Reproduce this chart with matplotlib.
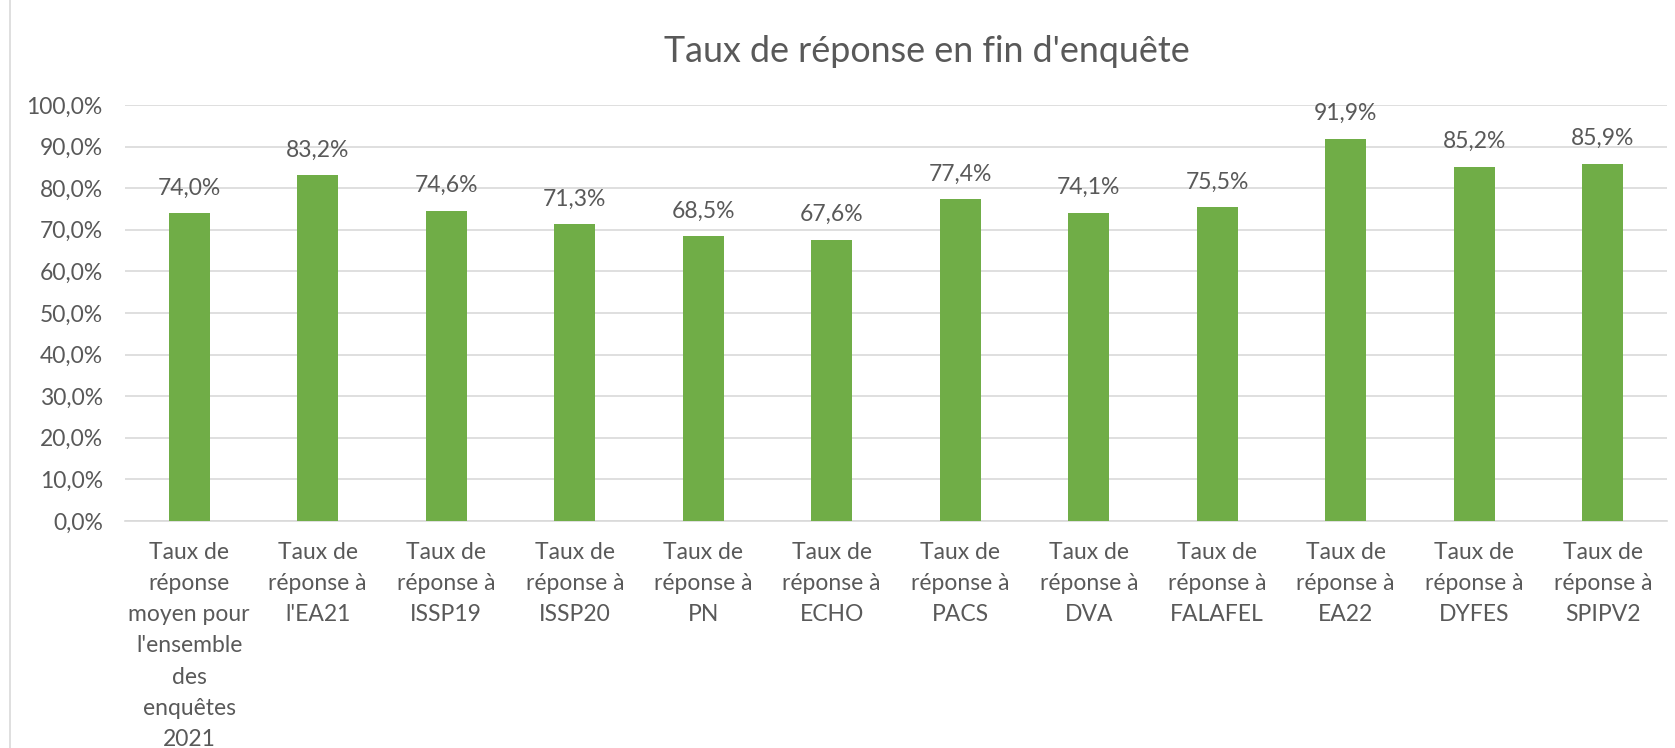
import matplotlib
matplotlib.use("Agg")
import matplotlib.pyplot as plt
from matplotlib.ticker import FuncFormatter, MultipleLocator

categories = [
    "Taux de\nréponse\nmoyen pour\nl'ensemble\ndes\nenquêtes\n2021",
    "Taux de\nréponse à\nl'EA21",
    "Taux de\nréponse à\nISSP19",
    "Taux de\nréponse à\nISSP20",
    "Taux de\nréponse à\nPN",
    "Taux de\nréponse à\nECHO",
    "Taux de\nréponse à\nPACS",
    "Taux de\nréponse à\nDVA",
    "Taux de\nréponse à\nFALAFEL",
    "Taux de\nréponse à\nEA22",
    "Taux de\nréponse à\nDYFES",
    "Taux de\nréponse à\nSPIPV2",
]
values = [74.0, 83.2, 74.6, 71.3, 68.5, 67.6, 77.4, 74.1, 75.5, 91.9, 85.2, 85.9]
title = "Taux de réponse en fin d'enquête"

plt.rcParams['font.family'] = ['Lato', 'DejaVu Sans']
TXT = '#595959'
W, H = 1675, 748
fig = plt.figure(figsize=(W/100, H/100), dpi=100)
ax = fig.add_axes([125/W, 1-521/H, (1667-125)/W, (521-105)/H])

x = list(range(len(values)))
ax.bar(x, values, width=0.32, color='#70AD47', zorder=3)
for xi, v in zip(x, values):
    ax.annotate(f"{v:.1f}%".replace('.', ','), (xi, v), xytext=(0, 18),
                textcoords='offset points', ha='center', va='center',
                fontsize=16.5, color=TXT)

ax.set_xlim(-0.5, len(values)-0.5)
ax.set_ylim(0, 100)
ax.yaxis.set_major_locator(MultipleLocator(10))
ax.yaxis.set_major_formatter(FuncFormatter(lambda v, p: f"{v:.1f}%".replace('.', ',')))
ax.grid(axis='y', color='#D9D9D9', linewidth=1.2, zorder=0)
for s in ['top', 'right', 'left']:
    ax.spines[s].set_visible(False)
ax.spines['bottom'].set_color('#D9D9D9')
ax.spines['bottom'].set_linewidth(1.2)
ax.tick_params(axis='both', length=0, colors=TXT)
ax.tick_params(axis='y', pad=16, labelsize=16.5)
ax.tick_params(axis='x', pad=15, labelsize=16.5)
ax.set_xticks(x)
ax.set_xticklabels(categories, linespacing=1.6, va='top')

fig.text(927/W, 1-51/H, title, ha='center', va='center', fontsize=25.8, color=TXT)
fig.add_artist(plt.Line2D([10/W, 10/W], [0, 1], color='#D9D9D9', linewidth=1.2))

fig.savefig('out.png', dpi=100, facecolor='white')
